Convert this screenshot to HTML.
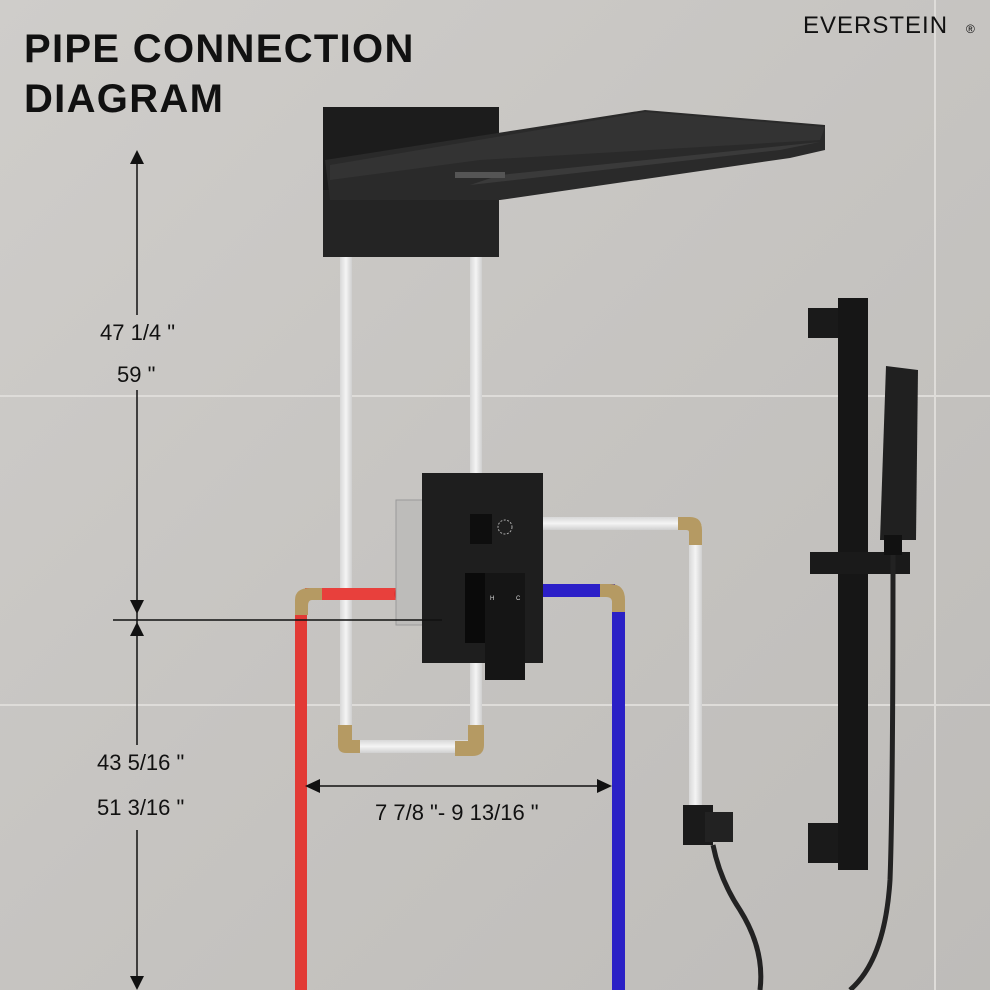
<!DOCTYPE html>
<html><head><meta charset="utf-8"><style>
html,body{margin:0;padding:0;width:990px;height:990px;overflow:hidden;background:#c9c7c4}
svg{display:block}
text{font-family:"Liberation Sans",sans-serif}
</style></head><body>
<svg width="990" height="990" viewBox="0 0 990 990" xmlns="http://www.w3.org/2000/svg">
<defs>
<linearGradient id="bg" x1="0" y1="0" x2="1" y2="1">
<stop offset="0" stop-color="#cfcdca"/><stop offset="0.5" stop-color="#c6c4c1"/><stop offset="1" stop-color="#bebcb9"/>
</linearGradient>
<linearGradient id="wp" x1="0" x2="1"><stop offset="0" stop-color="#d8d8d8"/><stop offset="0.5" stop-color="#f4f4f4"/><stop offset="1" stop-color="#cfcfcf"/></linearGradient>
<linearGradient id="wph" x1="0" y1="0" x2="0" y2="1"><stop offset="0" stop-color="#d8d8d8"/><stop offset="0.5" stop-color="#f4f4f4"/><stop offset="1" stop-color="#cfcfcf"/></linearGradient>
</defs>
<rect width="990" height="990" fill="url(#bg)"/>
<g stroke="#dedcd9" stroke-width="2">
<line x1="0" y1="396" x2="990" y2="396"/>
<line x1="0" y1="705" x2="990" y2="705"/>
<line x1="935" y1="0" x2="935" y2="990"/>
</g>
<text x="24" y="62" font-size="40" font-weight="bold" fill="#111" letter-spacing="1.3">PIPE CONNECTION</text>
<text x="24" y="112" font-size="40" font-weight="bold" fill="#111" letter-spacing="1.3">DIAGRAM</text>
<text x="803" y="33" font-size="24" fill="#111" letter-spacing="1">EVERSTEIN</text>
<text x="966" y="33" font-size="12" fill="#111">®</text>

<rect x="340" y="255" width="12" height="485" fill="url(#wp)"/>
<rect x="470" y="255" width="12" height="485" fill="url(#wp)"/>
<rect x="345" y="740" width="132" height="13" fill="url(#wph)"/>
<rect x="540" y="517" width="150" height="13" fill="url(#wph)"/>
<rect x="689" y="525" width="13" height="285" fill="url(#wp)"/>
<rect x="305" y="588" width="100" height="12" fill="#e8403c"/>
<rect x="295" y="610" width="12" height="380" fill="#e23a35"/>
<rect x="540" y="584" width="75" height="13" fill="#2b1fc8"/>
<rect x="612" y="605" width="13" height="385" fill="#2a20c6"/>
<g fill="#b59a63">
<path d="M295 615 V600 Q295 588 310 588 H322 V600 H312 Q308 600 308 606 V615 Z"/>
<path d="M600 584 H610 Q625 584 625 600 V612 H612 V602 Q612 597 606 597 H600 Z"/>
<path d="M678 517 H690 Q702 517 702 530 V545 H689 V532 Q689 530 686 530 H678 Z"/>
<path d="M338 725 H352 V740 H360 V753 H346 Q338 753 338 745 Z"/>
<path d="M468 725 H484 V745 Q484 756 472 756 H455 V741 H468 Z"/>
</g>
<circle cx="405" cy="594" r="9" fill="#9b7c4a" stroke="#e02020" stroke-width="3"/>
<rect x="396" y="500" width="28" height="125" fill="#bdbcba" stroke="#9a9a9a"/>
<rect x="422" y="473" width="121" height="190" fill="#1e1e1e"/>
<rect x="470" y="514" width="22" height="30" fill="#0e0e0e"/>
<circle cx="505" cy="527" r="7" fill="none" stroke="#aaa" stroke-width="1" stroke-dasharray="2 1.5"/>
<rect x="465" y="573" width="20" height="70" fill="#0a0a0a"/>
<rect x="485" y="573" width="40" height="107" fill="#151515"/>
<text x="490" y="600" font-size="6" fill="#ddd">H</text>
<text x="516" y="600" font-size="6" fill="#ddd">C</text>
<rect x="323" y="107" width="176" height="150" fill="#1c1c1c"/>
<rect x="323" y="190" width="176" height="67" fill="#242424"/>
<polygon points="325,160 645,110 825,125 825,150 790,158 500,200 330,200" fill="#2a2a2a"/>
<polygon points="330,165 645,112 825,127 820,140 480,160 330,180" fill="#333"/>
<polygon points="470,185 780,150 820,142 500,175" fill="#3a3a3a"/>
<rect x="455" y="172" width="50" height="6" fill="#555"/>
<rect x="808" y="308" width="30" height="30" fill="#1a1a1a"/>
<rect x="808" y="823" width="30" height="40" fill="#1a1a1a"/>
<rect x="838" y="298" width="30" height="572" fill="#161616"/>
<rect x="810" y="552" width="100" height="22" fill="#1a1a1a"/>
<polygon points="886,366 918,370 916,540 880,540" fill="#202020"/>
<rect x="884" y="535" width="18" height="20" fill="#111"/>
<path d="M893 555 Q893 800 890 880 Q885 960 850 990" stroke="#222" stroke-width="5" fill="none"/>
<rect x="683" y="805" width="30" height="40" fill="#1a1a1a"/>
<rect x="705" y="812" width="28" height="30" fill="#222"/>
<path d="M713 845 Q720 880 740 910 Q765 950 760 990" stroke="#222" stroke-width="5" fill="none"/>
<g stroke="#111" stroke-width="1.5" fill="#111">
<line x1="137" y1="155" x2="137" y2="315"/>
<line x1="137" y1="390" x2="137" y2="745"/>
<line x1="137" y1="830" x2="137" y2="985"/>
<line x1="113" y1="620" x2="442" y2="620"/>
<line x1="310" y1="786" x2="606" y2="786"/>
<polygon points="137,150 130,164 144,164" stroke="none"/>
<polygon points="137,614 130,600 144,600" stroke="none"/>
<polygon points="137,622 130,636 144,636" stroke="none"/>
<polygon points="137,990 130,976 144,976" stroke="none"/>
<polygon points="305,786 320,779 320,793" stroke="none"/>
<polygon points="612,786 597,779 597,793" stroke="none"/>
</g>
<g font-size="22" fill="#111">
<text x="100" y="340">47 1/4 "</text>
<text x="117" y="382">59 "</text>
<text x="97" y="770">43 5/16 "</text>
<text x="97" y="815">51 3/16 "</text>
<text x="375" y="820">7 7/8 "- 9 13/16 "</text>
</g>
</svg>
</body></html>
